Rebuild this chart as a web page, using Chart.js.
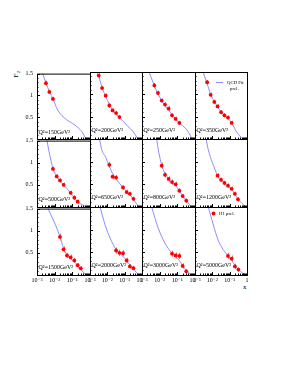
<!DOCTYPE html>
<html><head><meta charset="utf-8">
<script src="https://cdn.jsdelivr.net/npm/chart.js@4.4.0/dist/chart.umd.min.js"></script>
<style>
html,body{margin:0;padding:0;background:#fff;}
body{width:287px;height:371px;position:relative;overflow:hidden;}
canvas{position:absolute;}
.t{position:absolute;font-family:"Liberation Serif","DejaVu Serif",serif;color:#000;white-space:nowrap;line-height:1;}
</style></head><body>
<div class="t" id="ytitle" style="left:14px;top:70px;font-size:7px;transform:rotate(-90deg);transform-origin:center;">F<sub style="font-size:5px">2</sub></div>
<div class="t" style="left:243px;top:284px;font-size:7px;">x</div>
<script>
// ---- labels / ticks ----
const Q2 = ["150","200","250","350","500","650","800","1200","1500","2000","3000","5000"];
const xTicks = [0.001, 0.01, 0.1, 1];
const xTickText = ["10\u207B\u00B3", "10\u207B\u00B2", "10\u207B\u00B9", "1"];
const yTicks = [0.5, 1, 1.5];
const yTickText = ["0.5", "1", "1.5"];

// ---- H1 preliminary data (x, F2, error) ----
const x150 = [0.0032,0.005,0.008];               const f150 = [1.28,1.08,0.92];                    const e150 = [0.06,0.05,0.05];
const x200 = [0.0032,0.005,0.008,0.013,0.02,0.032,0.05]; const f200 = [1.42,1.14,0.97,0.75,0.64,0.58,0.49]; const e200 = [0.06,0.05,0.05,0.05,0.05,0.05,0.05];
const x250 = [0.005,0.008,0.013,0.02,0.032,0.05,0.08,0.13]; const f250 = [1.20,1.03,0.86,0.77,0.68,0.53,0.45,0.36]; const e250 = [0.06,0.05,0.05,0.06,0.06,0.05,0.05,0.05];
const x350 = [0.005,0.008,0.013,0.02,0.032,0.05,0.08,0.13]; const f350 = [1.27,0.99,0.83,0.73,0.60,0.53,0.48,0.36]; const e350 = [0.05,0.05,0.05,0.05,0.05,0.05,0.05,0.05];
const x500 = [0.008,0.013,0.02,0.032,0.08,0.13,0.2]; const f500 = [0.86,0.69,0.60,0.50,0.32,0.21,0.12]; const e500 = [0.05,0.05,0.05,0.05,0.05,0.05,0.05];
const x650 = [0.013,0.02,0.032,0.08,0.13,0.2,0.32]; const f650 = [0.93,0.67,0.65,0.43,0.33,0.29,0.18]; const e650 = [0.07,0.06,0.06,0.05,0.05,0.05,0.05];
const x800 = [0.013,0.02,0.032,0.05,0.08,0.13,0.2,0.32]; const f800 = [0.91,0.71,0.62,0.55,0.50,0.36,0.24,0.14]; const e800 = [0.07,0.06,0.06,0.06,0.06,0.05,0.05,0.05];
const x1200 = [0.02,0.032,0.05,0.08,0.13,0.2,0.3]; const f1200 = [0.69,0.60,0.53,0.47,0.40,0.29,0.17]; const e1200 = [0.06,0.05,0.05,0.05,0.05,0.05,0.05];
const x1500 = [0.02,0.032,0.05,0.08,0.13,0.2,0.3]; const f1500 = [0.86,0.58,0.44,0.40,0.33,0.22,0.15]; const e1500 = [0.08,0.07,0.06,0.06,0.06,0.05,0.05];
const x2000 = [0.032,0.05,0.08,0.13,0.2,0.32]; const f2000 = [0.54,0.49,0.48,0.32,0.19,0.15]; const e2000 = [0.07,0.07,0.07,0.06,0.05,0.05];
const x3000 = [0.05,0.08,0.13,0.2,0.32]; const f3000 = [0.47,0.43,0.42,0.20,0.08]; const e3000 = [0.07,0.07,0.07,0.06,0.05];
const x5000 = [0.08,0.13,0.2,0.32]; const f5000 = [0.42,0.36,0.19,0.12]; const e5000 = [0.07,0.07,0.06,0.05];

// ---- QCD fit curves (x, F2) ----
const fx150 = [0.0019,0.0032,0.005,0.008,0.015,0.045,0.14,0.34,0.62];  const ff150 = [1.55,1.29,1.09,0.92,0.66,0.45,0.32,0.17,-0.01];
const fx200 = [0.0022,0.0032,0.005,0.008,0.013,0.02,0.032,0.05,0.08,0.155,0.3,0.6]; const ff200 = [1.58,1.40,1.15,0.95,0.78,0.65,0.56,0.48,0.40,0.28,0.17,-0.01];
const fx250 = [0.0023,0.005,0.008,0.013,0.02,0.032,0.05,0.08,0.13,0.27,0.45,0.68]; const ff250 = [1.55,1.19,1.01,0.86,0.75,0.65,0.55,0.45,0.36,0.25,0.14,-0.01];
const fx350 = [0.0026,0.005,0.008,0.013,0.02,0.032,0.05,0.08,0.13,0.24,0.6]; const ff350 = [1.56,1.24,1.00,0.84,0.72,0.61,0.53,0.46,0.37,0.17,-0.01];
const fx500 = [0.0036,0.0047,0.008,0.013,0.02,0.032,0.08,0.13,0.2,0.72]; const ff500 = [1.52,1.27,0.87,0.70,0.59,0.50,0.32,0.21,0.12,-0.01];
const fx650 = [0.0035,0.0047,0.008,0.013,0.02,0.032,0.05,0.08,0.13,0.2,0.32,0.68]; const ff650 = [1.52,1.27,1.10,0.90,0.74,0.62,0.52,0.43,0.34,0.27,0.17,-0.01];
const fx800 = [0.0066,0.009,0.013,0.02,0.032,0.05,0.08,0.13,0.2,0.32,0.65]; const ff800 = [1.52,1.20,0.93,0.74,0.63,0.55,0.47,0.36,0.25,0.14,-0.01];
const fx1200 = [0.0042,0.0058,0.01,0.02,0.032,0.05,0.08,0.13,0.2,0.3,0.92]; const ff1200 = [1.52,1.27,0.98,0.70,0.60,0.53,0.46,0.39,0.29,0.18,-0.01];
const fx1500 = [0.004,0.0155,0.02,0.032,0.05,0.08,0.13,0.2,0.3,0.6]; const ff1500 = [1.52,0.99,0.86,0.60,0.46,0.38,0.30,0.21,0.13,-0.01];
const fx2000 = [0.0037,0.0075,0.015,0.032,0.05,0.08,0.13,0.2,0.32,0.67]; const ff2000 = [1.52,1.10,0.80,0.56,0.48,0.41,0.32,0.22,0.13,-0.01];
const fx3000 = [0.0034,0.008,0.02,0.05,0.08,0.13,0.2,0.32,0.66]; const ff3000 = [1.52,1.05,0.70,0.48,0.40,0.32,0.21,0.10,-0.01];
const fx5000 = [0.0056,0.0215,0.034,0.08,0.13,0.2,0.32,0.92]; const ff5000 = [1.52,0.77,0.62,0.42,0.33,0.22,0.12,-0.01];

const panels = [
  [x150,f150,e150,fx150,ff150],[x200,f200,e200,fx200,ff200],[x250,f250,e250,fx250,ff250],[x350,f350,e350,fx350,ff350],
  [x500,f500,e500,fx500,ff500],[x650,f650,e650,fx650,ff650],[x800,f800,e800,fx800,ff800],[x1200,f1200,e1200,fx1200,ff1200],
  [x1500,f1500,e1500,fx1500,ff1500],[x2000,f2000,e2000,fx2000,ff2000],[x3000,f3000,e3000,fx3000,ff3000],[x5000,f5000,e5000,fx5000,ff5000]
];

// ---- layout ----
const colEdges = [37, 90, 142, 195, 247];
const rowEdges = [72, 139, 207, 275];
const PADL = 24, PADR = 12, PADT = 6, PADB = 14;
const FONT = '"Liberation Serif","DejaVu Serif",serif';
const RED = '#ff0000', BLUE = '#8c8cff', ERRC = '#e07a7a';

const decor = {
  id: 'decor',
  beforeDatasetsDraw(chart) {
    const ds = chart.data.datasets[0], xs = chart.scales.x, ys = chart.scales.y, ctx = chart.ctx;
    ctx.save(); ctx.strokeStyle = ERRC; ctx.lineWidth = 1; ctx.beginPath();
    ds.data.forEach((pt, i) => {
      const px = Math.round(xs.getPixelForValue(pt.x)) + 0.5;
      ctx.moveTo(px, ys.getPixelForValue(pt.y - ds.errors[i]));
      ctx.lineTo(px, ys.getPixelForValue(pt.y + ds.errors[i]));
    });
    ctx.stroke(); ctx.restore();
  },
  afterDraw(chart, args, o) {
    const ctx = chart.ctx, ca = chart.chartArea, xs = chart.scales.x, ys = chart.scales.y;
    ctx.save();
    ctx.strokeStyle = '#000'; ctx.lineWidth = 1;
    ctx.strokeRect(ca.left + 0.5, ca.top + 0.5, ca.right - ca.left, ca.bottom - ca.top);
    ctx.beginPath();
    for (let k = 0; k <= 15; k++) {
      const v = k / 10, y = Math.round(ys.getPixelForValue(v)) + 0.5, len = (k % 5 === 0) ? 3 : 1.5;
      ctx.moveTo(ca.left, y); ctx.lineTo(ca.left + len, y);
    }
    for (let d = -3; d < 0; d++) for (let m = 1; m <= 9; m++) {
      const v = m * Math.pow(10, d), x = Math.round(xs.getPixelForValue(v)) + 0.5, len = (m === 1) ? 3 : 1.5;
      ctx.moveTo(x, ca.bottom); ctx.lineTo(x, ca.bottom - len);
    }
    ctx.stroke();
    ctx.fillStyle = '#000'; ctx.font = '6px ' + FONT; ctx.textBaseline = 'middle'; ctx.textAlign = 'left';
    ctx.fillText('Q\u00B2=' + o.q + 'GeV\u00B2', ca.left + 1.5, ca.top + 58.5);
    if (o.fitLegend) {
      const fd = chart.data.datasets[1];
      ctx.strokeStyle = fd.borderColor; ctx.beginPath();
      ctx.moveTo(ca.left + 21, ca.top + 10.5); ctx.lineTo(ca.left + 28, ca.top + 10.5); ctx.stroke();
      ctx.font = '4.8px ' + FONT;
      ctx.fillText('QCD Fit', ca.left + 32, ca.top + 10.5);
      ctx.fillText('prel.', ca.left + 35, ca.top + 17);
    }
    if (o.dataLegend) {
      const dd = chart.data.datasets[0];
      ctx.fillStyle = dd.pointBackgroundColor; ctx.beginPath();
      ctx.arc(ca.left + 18.5, ca.top + 6.5, 1.9, 0, Math.PI * 2); ctx.fill();
      ctx.fillStyle = '#000'; ctx.font = '4.8px ' + FONT;
      ctx.fillText('H1 prel.', ca.left + 24, ca.top + 6.5);
    }
    ctx.restore();
  }
};

panels.forEach((p, idx) => {
  const col = idx % 4, row = Math.floor(idx / 4);
  const x0 = colEdges[col], x1 = colEdges[col + 1], y0 = rowEdges[row], y1 = rowEdges[row + 1];
  const W = (x1 - x0) + PADL + PADR, H = (y1 - y0) + PADT + PADB;
  const cv = document.createElement('canvas');
  cv.width = W; cv.height = H;
  cv.style.left = (x0 - PADL) + 'px'; cv.style.top = (y0 - PADT) + 'px';
  cv.style.width = W + 'px'; cv.style.height = H + 'px';
  document.body.appendChild(cv);
  const isLeft = col === 0, isBottom = row === 2;
  new Chart(cv, {
    type: 'line',
    data: { datasets: [
      { label: 'H1 prel.', data: p[0].map((v, i) => ({ x: v, y: p[1][i] })), errors: p[2],
        showLine: false, pointRadius: 1.9, pointHoverRadius: 1.9, pointBackgroundColor: RED, pointBorderWidth: 0, borderColor: RED, order: 0 },
      { label: 'QCD Fit prel.', data: p[3].map((v, i) => ({ x: v, y: p[4][i] })),
        borderColor: BLUE, borderWidth: 1, pointRadius: 0, cubicInterpolationMode: 'monotone', fill: false, order: 1 }
    ]},
    options: {
      responsive: false, animation: false, devicePixelRatio: 1, events: [],
      layout: { autoPadding: false, padding: { left: 0, top: PADT, right: PADR, bottom: 0 } },
      plugins: { legend: { display: false }, tooltip: { enabled: false },
        decor: { q: Q2[idx], fitLegend: idx === 3, dataLegend: idx === 11 } },
      scales: {
        x: { type: 'logarithmic', min: 0.001, max: 1,
          afterBuildTicks: s => { s.ticks = xTicks.map(v => ({ value: v })); },
          afterFit: s => { s.height = PADB; },
          ticks: { display: isBottom, autoSkip: false, maxRotation: 0, minRotation: 0, padding: 2,
            color: '#000', font: { family: FONT, size: 6 }, callback: (v, i) => xTickText[i] },
          grid: { display: false, drawTicks: false }, border: { display: false } },
        y: { type: 'linear', min: 0, max: 1.5,
          afterBuildTicks: s => { s.ticks = yTicks.map(v => ({ value: v })); },
          afterFit: s => { s.width = PADL; },
          ticks: { display: isLeft, padding: 4, color: '#000', font: { family: FONT, size: 6 },
            callback: (v, i) => yTickText[i] },
          grid: { display: false, drawTicks: false }, border: { display: false } }
      }
    },
    plugins: [decor]
  });
});
</script>
</body></html>
